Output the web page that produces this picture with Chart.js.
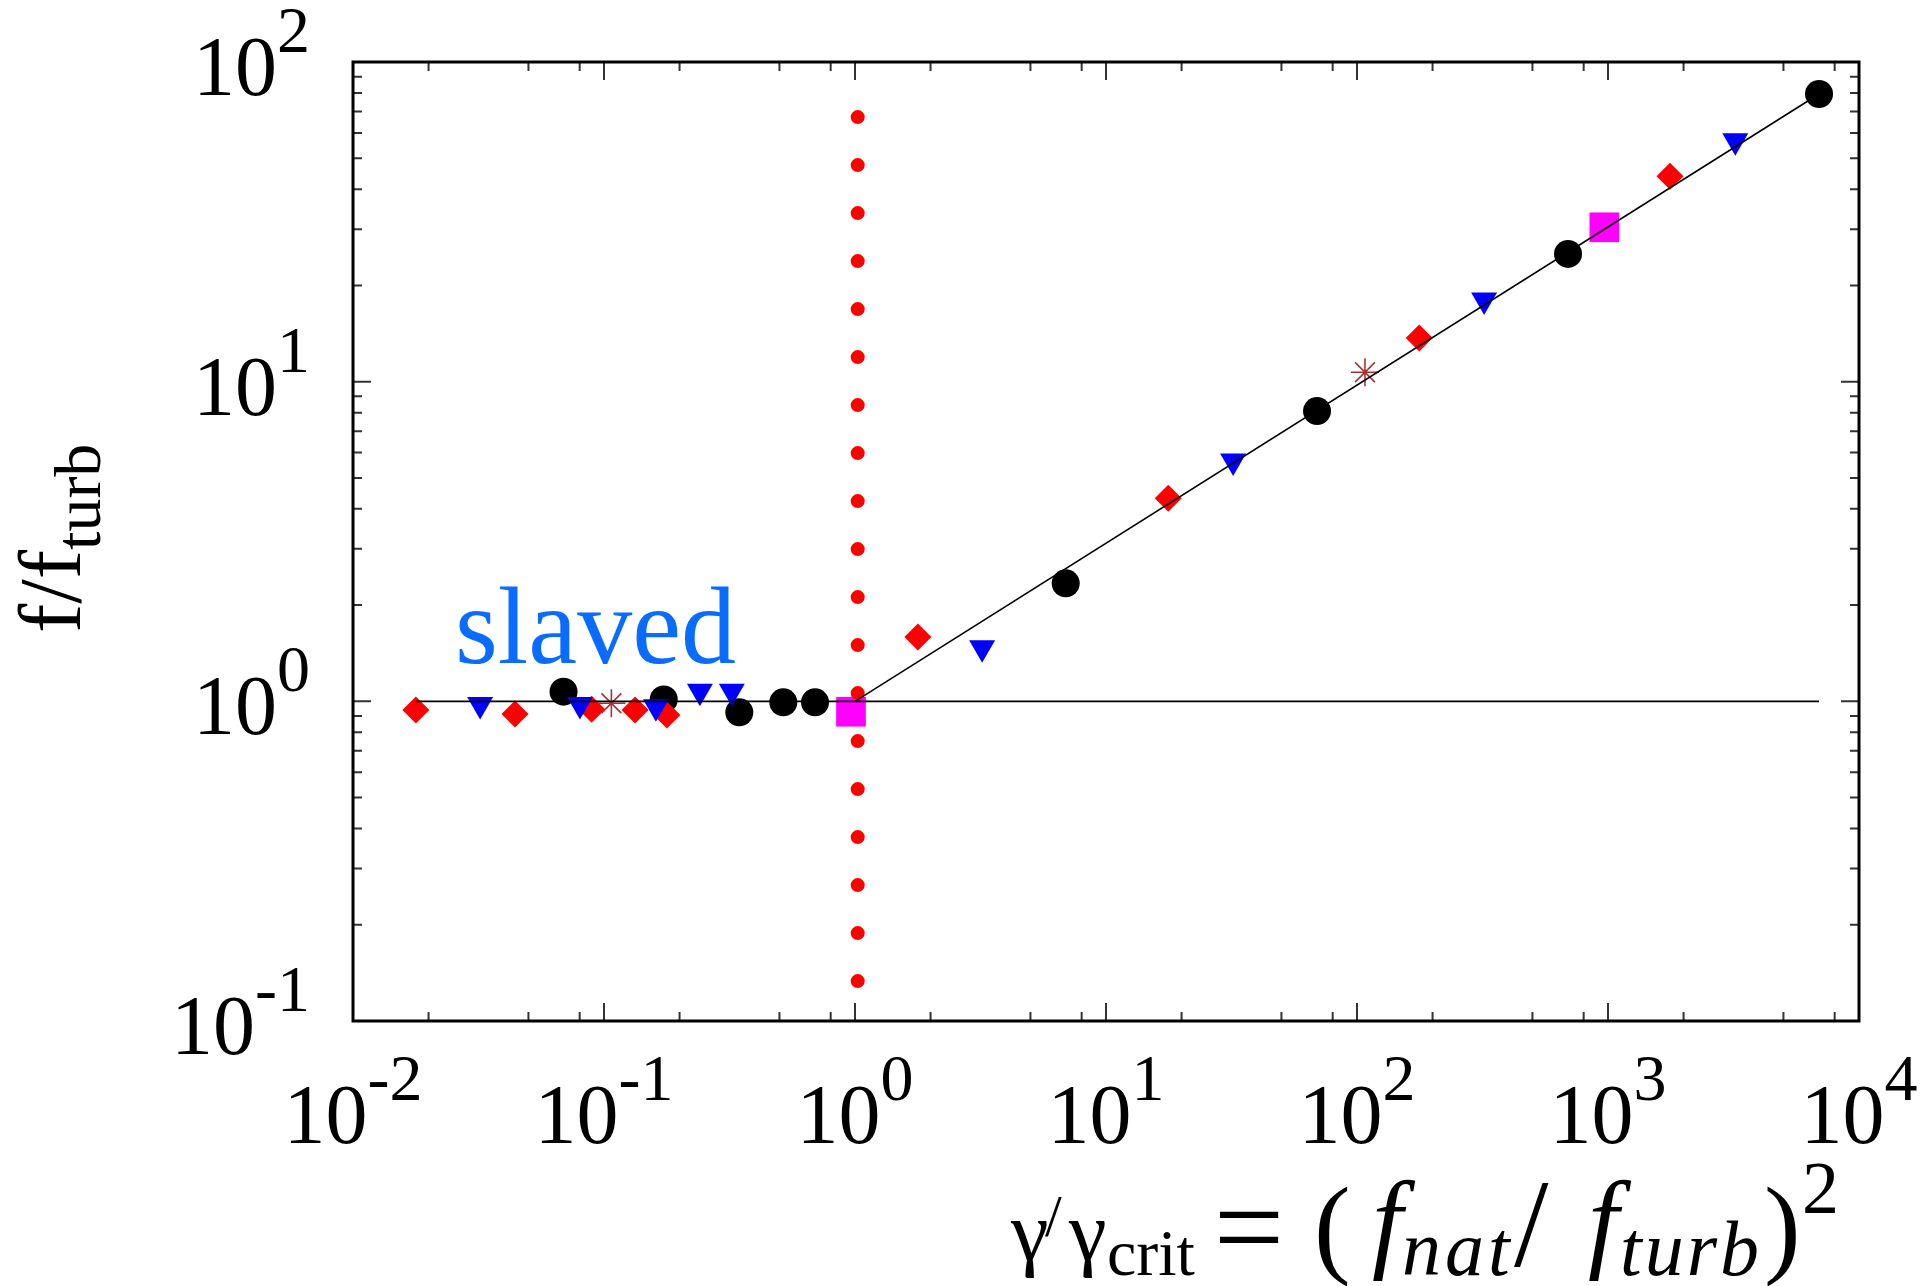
<!DOCTYPE html>
<html>
<head>
<meta charset="utf-8">
<title>f/f_turb against γ/γcrit</title>
<script src="https://cdn.jsdelivr.net/npm/chart.js@4.4.1/dist/chart.umd.min.js"></script>
<style>
    html, body { margin: 0; padding: 0; background: #ffffff; }
    #wrap { width: 1928px; height: 1286px; position: relative; }
</style>
</head>
<body>
<div id="wrap"><canvas id="plot"></canvas></div>
<script>
/* ---- data: gamma/gamma_crit (x) and f/f_turb (y) for each run ---- */
const circleX   = [0.069, 0.173, 0.346, 0.518, 0.693, 6.91, 69.3, 693, 6930];
const circleY   = [1.072, 1.014, 0.924, 0.993, 0.993, 2.34, 8.09, 25.1, 79.4];
const diamondX  = [0.0178, 0.0442, 0.0893, 0.133, 0.178, 1.78, 17.7, 177, 1766];
const diamondY  = [0.939, 0.913, 0.944, 0.939, 0.906, 1.59, 4.32, 13.7, 43.9];
const triangleX = [0.0321, 0.0802, 0.161, 0.241, 0.323, 3.21, 32.1, 321, 3215];
const triangleY = [0.977, 0.977, 0.961, 1.076, 1.076, 1.47, 5.65, 18.0, 56.7];
const squareX   = [0.964, 967];
const squareY   = [0.928, 30.4];
const starX     = [0.107, 107.6];
const starY     = [0.986, 10.7];

// slaved plateau and the square-root branch above gamma_crit
const plateauX  = [0.0178, 6930];
const plateauY  = [1, 1];
const branchX   = [1, 6930];
const branchY   = [1, 79.4];

// gamma = gamma_crit marker line
const critX     = [1.025, 1.025];
const critY     = [0.1333, 68];

// axis decades and minor tick multiples
const xDecades  = [-2, -1, 0, 1, 2, 3, 4];
const yDecades  = [-1, 0, 1, 2];
const xMinor    = [2, 5, 8];
const yMinor    = [2, 3, 4, 5, 6, 7, 8, 9];

const SERIF = '"Liberation Serif", "Times New Roman", serif';

function pts(xs, ys) {
    return xs.map((x, i) => ({ x, y: ys[i] }));
}

/** 画 10^n 形式的刻度标签 */
function drawPower(ctx, exp, x, y, align) {
    const base = '10';
    const sup = String(exp);
    ctx.font = `84px ${SERIF}`;
    const wBase = ctx.measureText(base).width;
    ctx.font = `66px ${SERIF}`;
    const wSup = ctx.measureText(sup).width;
    const total = wBase + wSup;
    let start = x;
    if (align === 'center') start = x - total / 2;
    if (align === 'right') start = x - total;
    ctx.textAlign = 'left';
    ctx.textBaseline = 'alphabetic';
    ctx.font = `84px ${SERIF}`;
    ctx.fillText(base, start, y);
    ctx.font = `66px ${SERIF}`;
    ctx.fillText(sup, start + wBase, y - 43);
}

/** 依次绘制带字体和位置的文字片段 */
function drawPieces(ctx, pieces) {
    pieces.forEach(p => {
        ctx.font = p.font;
        ctx.textAlign = p.align || 'left';
        ctx.letterSpacing = p.spacing || '0px';
        ctx.fillText(p.text, p.x, p.y);
    });
    ctx.letterSpacing = '0px';
}

const framePlugin = {
    id: 'frame',
    afterDatasetsDraw(chart) {
        const { ctx, chartArea: a, scales: { x, y } } = chart;
        ctx.save();

        // tick marks on all four sides, pointing inwards
        ctx.strokeStyle = '#333333';
        ctx.lineWidth = 2;
        ctx.beginPath();
        xDecades.forEach(k => {
            const px = x.getPixelForValue(Math.pow(10, k));
            ctx.moveTo(px, a.bottom); ctx.lineTo(px, a.bottom - 18);
            ctx.moveTo(px, a.top); ctx.lineTo(px, a.top + 18);
            if (k < xDecades[xDecades.length - 1]) {
                xMinor.forEach(m => {
                    const mx = x.getPixelForValue(m * Math.pow(10, k));
                    ctx.moveTo(mx, a.bottom); ctx.lineTo(mx, a.bottom - 9);
                    ctx.moveTo(mx, a.top); ctx.lineTo(mx, a.top + 9);
                });
            }
        });
        yDecades.forEach(k => {
            const py = y.getPixelForValue(Math.pow(10, k));
            ctx.moveTo(a.left, py); ctx.lineTo(a.left + 18, py);
            ctx.moveTo(a.right, py); ctx.lineTo(a.right - 18, py);
            if (k < yDecades[yDecades.length - 1]) {
                yMinor.forEach(m => {
                    const my = y.getPixelForValue(m * Math.pow(10, k));
                    ctx.moveTo(a.left, my); ctx.lineTo(a.left + 9, my);
                    ctx.moveTo(a.right, my); ctx.lineTo(a.right - 9, my);
                });
            }
        });
        ctx.stroke();

        // border
        ctx.strokeStyle = '#000000';
        ctx.lineWidth = 3;
        ctx.strokeRect(a.left, a.top, a.right - a.left, a.bottom - a.top);

        // tick labels
        ctx.fillStyle = '#000000';
        xDecades.forEach(k => {
            drawPower(ctx, k, x.getPixelForValue(Math.pow(10, k)), 1143, 'center');
        });
        yDecades.forEach(k => {
            drawPower(ctx, k, 310, y.getPixelForValue(Math.pow(10, k)) + 33, 'right');
        });

        // y title: f/f_turb
        ctx.save();
        ctx.rotate(-Math.PI / 2);
        ctx.textAlign = 'left';
        ctx.font = `88px ${SERIF}`;
        ctx.fillText('f/f', -633, 80);
        const wMain = ctx.measureText('f/f').width;
        ctx.font = `66px ${SERIF}`;
        ctx.fillText('turb', -633 + wMain, 100);
        ctx.restore();

        // x title: γ/γcrit = (f_nat/f_turb)^2
        drawPieces(ctx, [
            { text: 'γ',    font: `85px ${SERIF}`,          x: 1011, y: 1260 },
            { text: '/',    font: `60px ${SERIF}`,          x: 1045, y: 1236 },
            { text: 'γ',    font: `85px ${SERIF}`,          x: 1069, y: 1260 },
            { text: 'crit', font: `66px ${SERIF}`,          x: 1107, y: 1275 },
            { text: '=',    font: `125px ${SERIF}`,         x: 1249, y: 1269, align: 'center' },
            { text: '(',    font: `110px ${SERIF}`,         x: 1314, y: 1263 },
            { text: 'f',    font: `italic 110px ${SERIF}`,  x: 1372, y: 1258 },
            { text: 'nat',  font: `italic 78px ${SERIF}`,   x: 1402, y: 1275, spacing: '4px' },
            { text: '/',    font: `124px ${SERIF}`,         x: 1514, y: 1266 },
            { text: 'f',    font: `italic 110px ${SERIF}`,  x: 1588, y: 1258 },
            { text: 'turb', font: `italic 78px ${SERIF}`,   x: 1620, y: 1275, spacing: '3px' },
            { text: ')',    font: `110px ${SERIF}`,         x: 1764, y: 1263 },
            { text: '2',    font: `74px ${SERIF}`,          x: 1802, y: 1213 }
        ]);

        // regime label
        ctx.fillStyle = '#0a6cff';
        ctx.font = `110px ${SERIF}`;
        ctx.textAlign = 'left';
        ctx.fillText('slaved', 455, 663);

        ctx.restore();
    }
};

const ctx = document.getElementById('plot');

new Chart(ctx, {
    type: 'scatter',
    data: {
        datasets: [
            {
                label: 'plateau',
                data: pts(plateauX, plateauY),
                showLine: true,
                borderColor: '#000000',
                borderWidth: 1.6,
                pointRadius: 0,
                order: 0
            },
            {
                label: 'branch',
                data: pts(branchX, branchY),
                showLine: true,
                borderColor: '#000000',
                borderWidth: 1.6,
                pointRadius: 0,
                order: 0
            },
            {
                label: 'critical',
                data: pts(critX, critY),
                showLine: true,
                borderColor: '#ff0000',
                borderWidth: 14,
                borderDash: [0, 48],
                borderCapStyle: 'round',
                pointRadius: 0,
                order: 1
            },
            {
                label: 'square',
                data: pts(squareX, squareY),
                pointStyle: 'rect',
                pointRadius: 21,
                backgroundColor: '#ff00ff',
                borderWidth: 0,
                order: 2
            },
            {
                label: 'star',
                data: pts(starX, starY),
                pointStyle: 'star',
                pointRadius: 14,
                borderColor: '#a83232',
                pointBorderWidth: 1.6,
                order: 3
            },
            {
                label: 'triangle',
                data: pts(triangleX, triangleY),
                pointStyle: 'triangle',
                pointRotation: 180,
                pointRadius: 15,
                backgroundColor: '#0000ff',
                borderWidth: 0,
                order: 4
            },
            {
                label: 'diamond',
                data: pts(diamondX, diamondY),
                pointStyle: 'rectRot',
                pointRadius: 13.5,
                backgroundColor: '#ff0000',
                borderWidth: 0,
                order: 5
            },
            {
                label: 'circle',
                data: pts(circleX, circleY),
                pointStyle: 'circle',
                pointRadius: 14,
                backgroundColor: '#000000',
                borderWidth: 0,
                order: 6
            }
        ]
    },
    options: {
        responsive: true,
        maintainAspectRatio: false,
        devicePixelRatio: 1,
        animation: false,
        events: [],
        layout: {
            padding: { left: 353, right: 69, top: 62, bottom: 265 }
        },
        scales: {
            x: { type: 'logarithmic', min: 0.01, max: 10000, display: false },
            y: { type: 'logarithmic', min: 0.1, max: 100, display: false }
        },
        plugins: {
            legend: { display: false },
            tooltip: { enabled: false }
        }
    },
    plugins: [framePlugin]
});
</script>
</body>
</html>
